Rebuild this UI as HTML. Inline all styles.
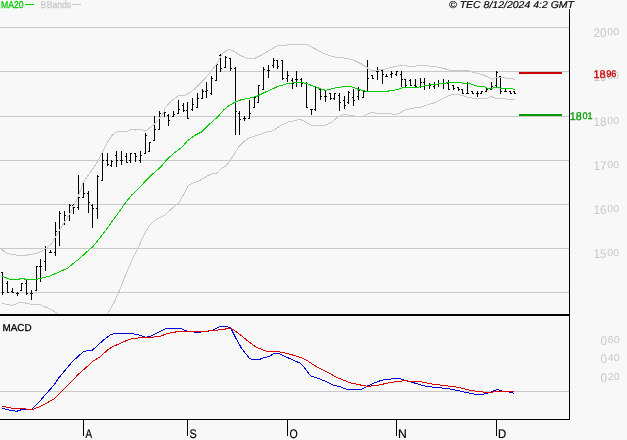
<!DOCTYPE html>
<html><head><meta charset="utf-8"><title>chart</title>
<style>
html,body{margin:0;padding:0;background:#f8f8f8;}
body{width:627px;height:440px;overflow:hidden;}
svg{display:block;will-change:transform;text-rendering:geometricPrecision;}
text{font-family:"Liberation Sans",sans-serif;}
</style></head><body>
<svg width="627" height="440" viewBox="0 0 627 440">
<rect width="627" height="440" fill="#f8f8f8"/>
<g shape-rendering="crispEdges">
<rect x="0" y="27" width="569" height="1" fill="#c8c8c8"/>
<rect x="0" y="71" width="569" height="1" fill="#c8c8c8"/>
<rect x="0" y="116" width="569" height="1" fill="#c8c8c8"/>
<rect x="0" y="160" width="569" height="1" fill="#c8c8c8"/>
<rect x="0" y="204" width="569" height="1" fill="#c8c8c8"/>
<rect x="0" y="248" width="569" height="1" fill="#c8c8c8"/>
<rect x="0" y="292" width="569" height="1" fill="#c8c8c8"/>
<rect x="0" y="391" width="569" height="1" fill="#c8c8c8"/>
</g>
<g fill="#000" shape-rendering="crispEdges">
<rect x="2" y="272" width="1" height="23"/><rect x="1" y="272" width="1" height="1"/><rect x="3" y="292" width="1" height="1"/>
<rect x="7" y="281" width="1" height="12"/><rect x="6" y="283" width="1" height="1"/><rect x="8" y="292" width="1" height="1"/>
<rect x="12" y="288" width="1" height="5"/><rect x="11" y="291" width="1" height="1"/><rect x="13" y="292" width="1" height="1"/>
<rect x="17" y="292" width="1" height="4"/><rect x="16" y="293" width="1" height="1"/><rect x="18" y="293" width="1" height="1"/>
<rect x="21" y="283" width="1" height="8"/><rect x="20" y="290" width="1" height="1"/><rect x="22" y="283" width="1" height="1"/>
<rect x="26" y="280" width="1" height="15"/><rect x="25" y="283" width="1" height="1"/><rect x="27" y="293" width="1" height="1"/>
<rect x="31" y="290" width="1" height="10"/><rect x="30" y="293" width="1" height="1"/><rect x="32" y="293" width="1" height="1"/>
<rect x="36" y="266" width="1" height="25"/><rect x="35" y="290" width="1" height="1"/><rect x="37" y="266" width="1" height="1"/>
<rect x="40" y="259" width="1" height="23"/><rect x="39" y="266" width="1" height="1"/><rect x="41" y="266" width="1" height="1"/>
<rect x="45" y="246" width="1" height="25"/><rect x="44" y="261" width="1" height="1"/><rect x="46" y="248" width="1" height="1"/>
<rect x="50" y="250" width="1" height="3"/><rect x="49" y="252" width="1" height="1"/><rect x="51" y="252" width="1" height="1"/>
<rect x="55" y="222" width="1" height="34"/><rect x="54" y="252" width="1" height="1"/><rect x="56" y="231" width="1" height="1"/>
<rect x="59" y="211" width="1" height="35"/><rect x="58" y="231" width="1" height="1"/><rect x="60" y="213" width="1" height="1"/>
<rect x="64" y="211" width="1" height="14"/><rect x="63" y="223" width="1" height="1"/><rect x="65" y="215" width="1" height="1"/>
<rect x="69" y="204" width="1" height="17"/><rect x="68" y="215" width="1" height="1"/><rect x="70" y="205" width="1" height="1"/>
<rect x="73" y="204" width="1" height="10"/><rect x="72" y="205" width="1" height="1"/><rect x="74" y="207" width="1" height="1"/>
<rect x="78" y="175" width="1" height="35"/><rect x="77" y="207" width="1" height="1"/><rect x="79" y="197" width="1" height="1"/>
<rect x="83" y="182" width="1" height="16"/><rect x="82" y="197" width="1" height="1"/><rect x="84" y="193" width="1" height="1"/>
<rect x="88" y="191" width="1" height="22"/><rect x="87" y="193" width="1" height="1"/><rect x="89" y="202" width="1" height="1"/>
<rect x="92" y="204" width="1" height="24"/><rect x="91" y="205" width="1" height="1"/><rect x="93" y="208" width="1" height="1"/>
<rect x="97" y="175" width="1" height="44"/><rect x="96" y="208" width="1" height="1"/><rect x="98" y="176" width="1" height="1"/>
<rect x="102" y="153" width="1" height="28"/><rect x="101" y="180" width="1" height="1"/><rect x="103" y="160" width="1" height="1"/>
<rect x="107" y="153" width="1" height="13"/><rect x="106" y="160" width="1" height="1"/><rect x="108" y="164" width="1" height="1"/>
<rect x="111" y="160" width="1" height="7"/><rect x="110" y="165" width="1" height="1"/><rect x="112" y="161" width="1" height="1"/>
<rect x="116" y="151" width="1" height="16"/><rect x="115" y="155" width="1" height="1"/><rect x="117" y="160" width="1" height="1"/>
<rect x="121" y="151" width="1" height="14"/><rect x="120" y="160" width="1" height="1"/><rect x="122" y="160" width="1" height="1"/>
<rect x="126" y="153" width="1" height="10"/><rect x="125" y="156" width="1" height="1"/><rect x="127" y="162" width="1" height="1"/>
<rect x="130" y="153" width="1" height="10"/><rect x="129" y="160" width="1" height="1"/><rect x="131" y="153" width="1" height="1"/>
<rect x="135" y="153" width="1" height="9"/><rect x="134" y="153" width="1" height="1"/><rect x="136" y="156" width="1" height="1"/>
<rect x="140" y="151" width="1" height="12"/><rect x="139" y="160" width="1" height="1"/><rect x="141" y="155" width="1" height="1"/>
<rect x="145" y="133" width="1" height="21"/><rect x="144" y="153" width="1" height="1"/><rect x="146" y="135" width="1" height="1"/>
<rect x="149" y="142" width="1" height="10"/><rect x="148" y="151" width="1" height="1"/><rect x="150" y="142" width="1" height="1"/>
<rect x="154" y="116" width="1" height="25"/><rect x="153" y="140" width="1" height="1"/><rect x="155" y="129" width="1" height="1"/>
<rect x="159" y="111" width="1" height="19"/><rect x="158" y="129" width="1" height="1"/><rect x="160" y="113" width="1" height="1"/>
<rect x="164" y="111" width="1" height="6"/><rect x="163" y="113" width="1" height="1"/><rect x="165" y="112" width="1" height="1"/>
<rect x="168" y="114" width="1" height="12"/><rect x="167" y="115" width="1" height="1"/><rect x="169" y="120" width="1" height="1"/>
<rect x="173" y="111" width="1" height="6"/><rect x="172" y="116" width="1" height="1"/><rect x="174" y="114" width="1" height="1"/>
<rect x="178" y="100" width="1" height="14"/><rect x="177" y="113" width="1" height="1"/><rect x="179" y="109" width="1" height="1"/>
<rect x="183" y="103" width="1" height="9"/><rect x="182" y="105" width="1" height="1"/><rect x="184" y="110" width="1" height="1"/>
<rect x="187" y="102" width="1" height="17"/><rect x="186" y="110" width="1" height="1"/><rect x="188" y="118" width="1" height="1"/>
<rect x="192" y="98" width="1" height="13"/><rect x="191" y="109" width="1" height="1"/><rect x="193" y="104" width="1" height="1"/>
<rect x="197" y="93" width="1" height="15"/><rect x="196" y="107" width="1" height="1"/><rect x="198" y="98" width="1" height="1"/>
<rect x="202" y="89" width="1" height="10"/><rect x="201" y="98" width="1" height="1"/><rect x="203" y="91" width="1" height="1"/>
<rect x="206" y="82" width="1" height="16"/><rect x="205" y="91" width="1" height="1"/><rect x="207" y="90" width="1" height="1"/>
<rect x="211" y="76" width="1" height="19"/><rect x="210" y="93" width="1" height="1"/><rect x="212" y="78" width="1" height="1"/>
<rect x="216" y="63" width="1" height="18"/><rect x="215" y="80" width="1" height="1"/><rect x="217" y="64" width="1" height="1"/>
<rect x="220" y="54" width="1" height="18"/><rect x="219" y="55" width="1" height="1"/><rect x="221" y="68" width="1" height="1"/>
<rect x="225" y="56" width="1" height="12"/><rect x="224" y="67" width="1" height="1"/><rect x="226" y="57" width="1" height="1"/>
<rect x="230" y="58" width="1" height="13"/><rect x="229" y="58" width="1" height="1"/><rect x="231" y="68" width="1" height="1"/>
<rect x="235" y="67" width="1" height="68"/><rect x="234" y="68" width="1" height="1"/><rect x="236" y="111" width="1" height="1"/>
<rect x="239" y="111" width="1" height="24"/><rect x="238" y="113" width="1" height="1"/><rect x="240" y="119" width="1" height="1"/>
<rect x="244" y="116" width="1" height="5"/><rect x="243" y="118" width="1" height="1"/><rect x="245" y="118" width="1" height="1"/>
<rect x="249" y="100" width="1" height="19"/><rect x="248" y="118" width="1" height="1"/><rect x="250" y="113" width="1" height="1"/>
<rect x="254" y="96" width="1" height="12"/><rect x="253" y="107" width="1" height="1"/><rect x="255" y="97" width="1" height="1"/>
<rect x="258" y="85" width="1" height="18"/><rect x="257" y="102" width="1" height="1"/><rect x="259" y="85" width="1" height="1"/>
<rect x="263" y="67" width="1" height="23"/><rect x="262" y="89" width="1" height="1"/><rect x="264" y="69" width="1" height="1"/>
<rect x="268" y="65" width="1" height="13"/><rect x="267" y="70" width="1" height="1"/><rect x="269" y="70" width="1" height="1"/>
<rect x="273" y="58" width="1" height="10"/><rect x="272" y="65" width="1" height="1"/><rect x="274" y="60" width="1" height="1"/>
<rect x="277" y="60" width="1" height="9"/><rect x="276" y="60" width="1" height="1"/><rect x="278" y="66" width="1" height="1"/>
<rect x="282" y="60" width="1" height="20"/><rect x="281" y="60" width="1" height="1"/><rect x="283" y="78" width="1" height="1"/>
<rect x="287" y="71" width="1" height="11"/><rect x="286" y="78" width="1" height="1"/><rect x="288" y="75" width="1" height="1"/>
<rect x="292" y="78" width="1" height="11"/><rect x="291" y="80" width="1" height="1"/><rect x="293" y="83" width="1" height="1"/>
<rect x="296" y="71" width="1" height="16"/><rect x="295" y="79" width="1" height="1"/><rect x="297" y="79" width="1" height="1"/>
<rect x="301" y="78" width="1" height="9"/><rect x="300" y="79" width="1" height="1"/><rect x="302" y="83" width="1" height="1"/>
<rect x="306" y="82" width="1" height="26"/><rect x="305" y="83" width="1" height="1"/><rect x="307" y="107" width="1" height="1"/>
<rect x="311" y="109" width="1" height="6"/><rect x="310" y="109" width="1" height="1"/><rect x="312" y="109" width="1" height="1"/>
<rect x="315" y="87" width="1" height="24"/><rect x="314" y="109" width="1" height="1"/><rect x="316" y="87" width="1" height="1"/>
<rect x="320" y="88" width="1" height="12"/><rect x="319" y="89" width="1" height="1"/><rect x="321" y="96" width="1" height="1"/>
<rect x="325" y="91" width="1" height="11"/><rect x="324" y="96" width="1" height="1"/><rect x="326" y="96" width="1" height="1"/>
<rect x="330" y="93" width="1" height="7"/><rect x="329" y="93" width="1" height="1"/><rect x="331" y="98" width="1" height="1"/>
<rect x="334" y="93" width="1" height="7"/><rect x="333" y="98" width="1" height="1"/><rect x="335" y="93" width="1" height="1"/>
<rect x="339" y="93" width="1" height="18"/><rect x="338" y="95" width="1" height="1"/><rect x="340" y="102" width="1" height="1"/>
<rect x="344" y="96" width="1" height="13"/><rect x="343" y="100" width="1" height="1"/><rect x="345" y="105" width="1" height="1"/>
<rect x="348" y="91" width="1" height="13"/><rect x="347" y="102" width="1" height="1"/><rect x="349" y="92" width="1" height="1"/>
<rect x="353" y="89" width="1" height="17"/><rect x="352" y="97" width="1" height="1"/><rect x="354" y="100" width="1" height="1"/>
<rect x="358" y="87" width="1" height="13"/><rect x="357" y="96" width="1" height="1"/><rect x="359" y="90" width="1" height="1"/>
<rect x="363" y="91" width="1" height="7"/><rect x="362" y="97" width="1" height="1"/><rect x="364" y="91" width="1" height="1"/>
<rect x="367" y="60" width="1" height="32"/><rect x="366" y="91" width="1" height="1"/><rect x="368" y="78" width="1" height="1"/>
<rect x="372" y="75" width="1" height="4"/><rect x="371" y="75" width="1" height="1"/><rect x="373" y="78" width="1" height="1"/>
<rect x="377" y="67" width="1" height="13"/><rect x="376" y="71" width="1" height="1"/><rect x="378" y="71" width="1" height="1"/>
<rect x="382" y="70" width="1" height="14"/><rect x="381" y="70" width="1" height="1"/><rect x="383" y="74" width="1" height="1"/>
<rect x="386" y="74" width="1" height="3"/><rect x="385" y="76" width="1" height="1"/><rect x="387" y="76" width="1" height="1"/>
<rect x="391" y="71" width="1" height="7"/><rect x="390" y="74" width="1" height="1"/><rect x="392" y="73" width="1" height="1"/>
<rect x="396" y="71" width="1" height="5"/><rect x="395" y="74" width="1" height="1"/><rect x="397" y="71" width="1" height="1"/>
<rect x="401" y="71" width="1" height="16"/><rect x="400" y="74" width="1" height="1"/><rect x="402" y="79" width="1" height="1"/>
<rect x="405" y="79" width="1" height="8"/><rect x="404" y="79" width="1" height="1"/><rect x="406" y="85" width="1" height="1"/>
<rect x="410" y="79" width="1" height="7"/><rect x="409" y="80" width="1" height="1"/><rect x="411" y="85" width="1" height="1"/>
<rect x="415" y="79" width="1" height="9"/><rect x="414" y="85" width="1" height="1"/><rect x="416" y="86" width="1" height="1"/>
<rect x="420" y="78" width="1" height="10"/><rect x="419" y="86" width="1" height="1"/><rect x="421" y="82" width="1" height="1"/>
<rect x="424" y="78" width="1" height="12"/><rect x="423" y="82" width="1" height="1"/><rect x="425" y="85" width="1" height="1"/>
<rect x="429" y="83" width="1" height="6"/><rect x="428" y="85" width="1" height="1"/><rect x="430" y="85" width="1" height="1"/>
<rect x="434" y="82" width="1" height="7"/><rect x="433" y="86" width="1" height="1"/><rect x="435" y="84" width="1" height="1"/>
<rect x="438" y="80" width="1" height="7"/><rect x="437" y="84" width="1" height="1"/><rect x="439" y="83" width="1" height="1"/>
<rect x="443" y="79" width="1" height="10"/><rect x="442" y="83" width="1" height="1"/><rect x="444" y="83" width="1" height="1"/>
<rect x="448" y="80" width="1" height="10"/><rect x="447" y="83" width="1" height="1"/><rect x="449" y="89" width="1" height="1"/>
<rect x="453" y="85" width="1" height="5"/><rect x="452" y="85" width="1" height="1"/><rect x="454" y="88" width="1" height="1"/>
<rect x="458" y="87" width="1" height="4"/><rect x="457" y="87" width="1" height="1"/><rect x="459" y="89" width="1" height="1"/>
<rect x="462" y="89" width="1" height="5"/><rect x="461" y="89" width="1" height="1"/><rect x="463" y="93" width="1" height="1"/>
<rect x="467" y="82" width="1" height="12"/><rect x="466" y="93" width="1" height="1"/><rect x="468" y="93" width="1" height="1"/>
<rect x="472" y="91" width="1" height="3"/><rect x="471" y="91" width="1" height="1"/><rect x="473" y="93" width="1" height="1"/>
<rect x="477" y="91" width="1" height="6"/><rect x="476" y="93" width="1" height="1"/><rect x="478" y="93" width="1" height="1"/>
<rect x="481" y="91" width="1" height="3"/><rect x="480" y="93" width="1" height="1"/><rect x="482" y="91" width="1" height="1"/>
<rect x="486" y="88" width="1" height="4"/><rect x="485" y="91" width="1" height="1"/><rect x="487" y="89" width="1" height="1"/>
<rect x="491" y="82" width="1" height="8"/><rect x="490" y="89" width="1" height="1"/><rect x="492" y="86" width="1" height="1"/>
<rect x="496" y="71" width="1" height="16"/><rect x="495" y="85" width="1" height="1"/><rect x="497" y="72" width="1" height="1"/>
<rect x="500" y="76" width="1" height="18"/><rect x="499" y="76" width="1" height="1"/><rect x="501" y="91" width="1" height="1"/>
<rect x="505" y="88" width="1" height="4"/><rect x="504" y="91" width="1" height="1"/><rect x="506" y="91" width="1" height="1"/>
<rect x="510" y="91" width="1" height="3"/><rect x="509" y="91" width="1" height="1"/><rect x="511" y="93" width="1" height="1"/>
<rect x="514" y="91" width="1" height="3"/><rect x="513" y="91" width="1" height="1"/><rect x="515" y="93" width="1" height="1"/>
</g>
<g fill="none" stroke-width="1" shape-rendering="crispEdges">
<polyline stroke="#c8c8c8" points="1.1,248.7 4.5,251.8 8.9,253.8 14.5,254.9 22.3,255.4 29.0,254.9 35.7,253.5 41.3,251.6 46.9,247.9 51.4,244.0 54.7,238.4 58.0,232.8 60.8,228.3 64.0,223.0 69.0,215.0 78.0,197.0 83.5,182.0 92.0,170.0 98.6,160.0 102.4,152.6 107.5,142.3 112.3,135.0 117.0,131.9 122.0,131.0 126.0,132.0 130.7,129.5 135.5,130.0 141.0,129.2 145.3,131.0 149.8,127.9 154.6,124.0 159.4,118.3 164.0,112.0 165.0,108.0 171.4,100.8 177.8,96.0 185.7,95.2 192.0,91.3 198.5,84.9 204.9,78.5 211.3,71.3 217.6,62.5 222.4,53.8 225.6,51.0 229.6,49.3 233.6,51.0 240.0,55.4 246.3,58.0 252.0,58.6 254.6,58.5 261.0,55.3 269.0,50.5 277.0,46.0 283.3,45.4 291.3,44.5 307.2,44.5 315.2,48.9 324.7,54.0 334.3,56.9 346.5,58.3 354.4,60.4 360.8,63.6 365.6,66.7 370.4,69.9 375.2,70.7 384.7,69.1 394.3,66.7 400.7,65.5 411.0,66.4 422.0,65.5 434.9,66.4 442.8,68.3 450.8,70.4 468.3,70.6 474.0,72.5 483.0,74.8 492.5,79.2 497.0,77.3 502.0,77.7 509.7,78.6 514.8,79.2"/>
<polyline stroke="#c8c8c8" points="2.0,303.4 12.0,305.5 21.0,302.0 30.0,304.0 40.0,304.5 50.0,309.0 57.0,313.0 60.0,316.0"/>
<polyline stroke="#c8c8c8" points="106.0,316.0 107.9,313.5 114.5,301.6 119.8,289.7 125.0,276.5 131.7,260.7 138.3,247.5 143.5,235.6 148.8,226.4 155.4,219.8 164.6,215.3 171.2,209.2 179.1,202.7 183.6,194.5 188.2,185.5 192.7,183.1 199.1,180.9 206.4,176.4 211.8,174.0 216.4,173.3 221.8,168.2 225.5,166.4 230.0,160.9 234.5,153.6 239.1,146.4 244.5,140.9 249.3,138.0 258.0,134.9 267.6,131.7 272.4,130.9 278.8,126.9 286.8,122.4 294.7,120.5 300.3,119.4 304.3,121.3 311.0,125.2 325.3,125.2 331.7,122.0 338.0,116.9 344.4,114.5 350.8,115.3 355.6,116.4 363.6,116.1 371.6,112.4 378.0,113.7 390.7,113.7 395.0,115.0 399.8,113.0 405.4,109.8 412.5,108.2 420.5,107.1 427.0,105.0 434.9,102.6 441.3,99.4 447.6,96.3 452.4,94.3 458.8,94.7 465.2,96.3 467.7,97.5 475.3,98.4 486.8,98.4 491.3,96.5 495.7,98.4 504.6,98.8 509.7,99.6 514.8,99.6"/>
<polyline stroke="#00cc00" points="2.0,276.0 10.0,279.5 17.0,279.5 22.0,278.5 27.0,279.5 36.0,279.5 40.0,278.5 50.0,276.0 60.0,271.5 68.0,268.0 75.0,262.0 78.0,259.8 85.9,252.7 92.7,246.8 99.5,238.4 106.4,229.3 115.5,216.8 124.5,204.3 131.4,195.2 138.2,189.1 145.0,181.6 151.8,174.8 160.9,166.8 167.3,159.1 174.5,152.7 181.8,147.3 187.3,140.9 194.5,135.5 201.8,131.8 209.1,124.5 218.2,116.4 223.6,110.0 229.1,105.5 234.5,102.4 241.0,99.8 249.0,98.2 257.0,96.3 264.9,92.3 272.8,88.8 277.6,86.4 282.4,85.1 287.2,83.5 292.0,83.0 298.4,82.7 303.0,82.7 308.0,84.0 314.5,86.6 320.7,88.8 325.7,90.4 335.3,88.0 344.9,86.4 351.3,86.7 359.2,89.6 365.6,91.1 376.8,91.1 387.9,91.1 397.5,89.6 403.0,87.5 411.0,87.0 419.0,87.0 427.0,85.4 434.9,84.3 442.8,83.5 447.6,82.7 458.8,82.7 465.0,83.3 469.0,83.3 472.8,84.6 476.6,86.0 483.0,86.3 486.8,87.9 491.3,88.8 495.0,87.3 498.3,87.5 500.8,88.4 511.0,88.4 514.8,89.4"/>
<polyline stroke="#0000dd" points="2.4,408.2 9.5,410.1 16.5,411.3 22.5,409.4 31.9,409.4 37.8,403.5 44.9,395.2 54.4,384.6 59.1,377.5 70.9,363.3 75.7,358.6 82.7,352.2 87.5,350.3 92.2,350.3 104.0,339.6 111.0,334.4 115.8,333.3 131.3,333.3 138.4,334.9 145.5,337.3 150.2,336.6 157.3,333.0 165.6,328.5 180.9,328.5 185.7,330.9 195.1,332.1 199.8,332.1 211.7,330.7 218.7,327.1 225.8,326.2 230.6,327.8 235.4,337.3 241.3,347.9 249.6,358.6 253.1,359.7 259.0,359.7 262.6,358.1 268.5,356.7 274.4,353.4 279.1,353.4 288.6,358.1 300.4,363.3 305.1,368.5 311.0,376.3 316.9,377.9 326.4,381.7 333.5,385.3 340.6,386.9 346.5,389.3 350.0,389.6 360.3,390.0 368.3,385.6 377.8,381.5 385.8,379.2 393.8,378.9 398.6,378.3 405.0,380.5 414.5,383.0 425.7,386.3 440.0,387.8 452.8,389.4 464.0,392.0 475.0,394.2 483.0,394.2 489.5,392.6 497.5,389.4 502.2,391.0 508.6,392.0 514.4,393.3"/>
<polyline stroke="#dd0000" points="2.4,406.3 11.8,408.2 23.6,408.9 33.0,409.4 42.6,405.4 54.4,398.7 61.5,391.7 70.9,382.2 78.0,374.6 85.0,368.5 93.4,360.9 99.3,357.4 108.7,349.0 113.5,346.3 117.0,344.8 124.2,341.5 131.3,338.9 140.7,337.7 150.2,337.3 159.6,336.6 166.7,333.7 178.6,331.4 190.4,331.4 204.6,331.4 216.4,330.2 223.5,329.5 230.6,327.8 238.9,333.7 248.4,341.5 256.6,347.4 267.3,351.5 279.1,351.9 288.6,353.8 300.4,357.4 307.5,360.9 314.6,365.6 321.7,369.2 328.7,372.7 335.8,377.0 342.9,379.8 350.7,383.0 361.9,385.3 368.3,386.3 377.8,385.3 390.6,382.4 403.4,380.8 419.3,381.5 432.0,384.0 444.8,385.6 457.6,387.2 470.3,390.4 483.0,392.0 492.7,392.0 502.2,391.0 514.4,391.0"/>
</g>
<g fill="#000" shape-rendering="crispEdges">
<rect x="0" y="314" width="570" height="2"/>
<rect x="569" y="9" width="1" height="411"/>
<rect x="0" y="419" width="570" height="1"/>
<rect x="83" y="419" width="1" height="17"/>
<rect x="187" y="419" width="1" height="17"/>
<rect x="287" y="419" width="1" height="17"/>
<rect x="396" y="419" width="1" height="17"/>
<rect x="496" y="419" width="1" height="17"/>
<rect x="519" y="72" width="43" height="2" fill="#cc0000"/>
<rect x="519" y="114" width="43" height="2" fill="#009900"/>
<rect x="25" y="4" width="9" height="1" fill="#00cc00"/>
<rect x="72" y="4" width="9" height="1" fill="#c8c8c8"/>
</g>
<g>
<text x="1" y="8" font-size="10" fill="#00cc00" stroke="#00cc00" stroke-width="0.3" textLength="22.5" lengthAdjust="spacingAndGlyphs">MA20</text>
<text font-size="10" fill="#c8c8c8" stroke="#c8c8c8" stroke-width="0.3"><tspan x="40.5" y="8" textLength="5.6" lengthAdjust="spacingAndGlyphs">B</tspan><tspan x="46.7" y="8" textLength="24.4" lengthAdjust="spacingAndGlyphs">Bands</tspan></text>
<text x="449" y="8" font-size="10" font-style="italic" fill="#000" stroke="#000" stroke-width="0.15" textLength="125" lengthAdjust="spacingAndGlyphs">© TEC 8/12/2024 4:2 GMT</text>
<text x="2.5" y="331" font-size="10" fill="#000" stroke="#000" stroke-width="0.3" textLength="29" lengthAdjust="spacingAndGlyphs">MACD</text>
<text x="85.5" y="438" font-size="12.5" fill="#000" stroke="#000" stroke-width="0.2" textLength="6.6" lengthAdjust="spacingAndGlyphs">A</text>
<text x="189.4" y="438" font-size="12.5" fill="#000" stroke="#000" stroke-width="0.2" textLength="7.2" lengthAdjust="spacingAndGlyphs">S</text>
<text x="289.5" y="438" font-size="12.5" fill="#000" stroke="#000" stroke-width="0.2" textLength="8.2" lengthAdjust="spacingAndGlyphs">O</text>
<text x="398.0" y="438" font-size="12.5" fill="#000" stroke="#000" stroke-width="0.2" textLength="8.8" lengthAdjust="spacingAndGlyphs">N</text>
<text x="498.0" y="438" font-size="12.5" fill="#000" stroke="#000" stroke-width="0.2" textLength="8.2" lengthAdjust="spacingAndGlyphs">D</text>
<text fill="#c8c8c8"><tspan x="593.5" y="37" font-size="12.5" textLength="13.0" lengthAdjust="spacingAndGlyphs">20</tspan><tspan x="607.3" y="35" font-size="10" textLength="11.8" lengthAdjust="spacingAndGlyphs">00</tspan></text>
<text fill="#c8c8c8"><tspan x="593.5" y="81" font-size="12.5" textLength="13.0" lengthAdjust="spacingAndGlyphs">19</tspan><tspan x="607.3" y="79" font-size="10" textLength="11.8" lengthAdjust="spacingAndGlyphs">00</tspan></text>
<text fill="#c8c8c8"><tspan x="593.5" y="126" font-size="12.5" textLength="13.0" lengthAdjust="spacingAndGlyphs">18</tspan><tspan x="607.3" y="124" font-size="10" textLength="11.8" lengthAdjust="spacingAndGlyphs">00</tspan></text>
<text fill="#c8c8c8"><tspan x="593.5" y="170" font-size="12.5" textLength="13.0" lengthAdjust="spacingAndGlyphs">17</tspan><tspan x="607.3" y="168" font-size="10" textLength="11.8" lengthAdjust="spacingAndGlyphs">00</tspan></text>
<text fill="#c8c8c8"><tspan x="593.5" y="214" font-size="12.5" textLength="13.0" lengthAdjust="spacingAndGlyphs">16</tspan><tspan x="607.3" y="212" font-size="10" textLength="11.8" lengthAdjust="spacingAndGlyphs">00</tspan></text>
<text fill="#c8c8c8"><tspan x="593.5" y="258" font-size="12.5" textLength="13.0" lengthAdjust="spacingAndGlyphs">15</tspan><tspan x="607.3" y="256" font-size="10" textLength="11.8" lengthAdjust="spacingAndGlyphs">00</tspan></text>
<text fill="#c8c8c8"><tspan x="600.5" y="345" font-size="12.5" textLength="6.5" lengthAdjust="spacingAndGlyphs">0</tspan><tspan x="607.8" y="343" font-size="10" textLength="11.8" lengthAdjust="spacingAndGlyphs">60</tspan></text>
<text fill="#c8c8c8"><tspan x="600.5" y="363" font-size="12.5" textLength="6.5" lengthAdjust="spacingAndGlyphs">0</tspan><tspan x="607.8" y="361" font-size="10" textLength="11.8" lengthAdjust="spacingAndGlyphs">40</tspan></text>
<text fill="#c8c8c8"><tspan x="600.5" y="382" font-size="12.5" textLength="6.5" lengthAdjust="spacingAndGlyphs">0</tspan><tspan x="607.8" y="380" font-size="10" textLength="11.8" lengthAdjust="spacingAndGlyphs">20</tspan></text>
<text fill="#cc0000" stroke="#cc0000" stroke-width="0.3"><tspan x="593.6" y="78" font-size="11.2" textLength="12.0" lengthAdjust="spacingAndGlyphs">18</tspan><tspan x="606.2" y="77" font-size="9.5" textLength="10.2" lengthAdjust="spacingAndGlyphs">96</tspan></text>
<text fill="#009900" stroke="#009900" stroke-width="0.3"><tspan x="569.8" y="120" font-size="11.2" textLength="12.0" lengthAdjust="spacingAndGlyphs">18</tspan><tspan x="582.4" y="119" font-size="9.5" textLength="10.2" lengthAdjust="spacingAndGlyphs">01</tspan></text>
</g>
</svg></body></html>
